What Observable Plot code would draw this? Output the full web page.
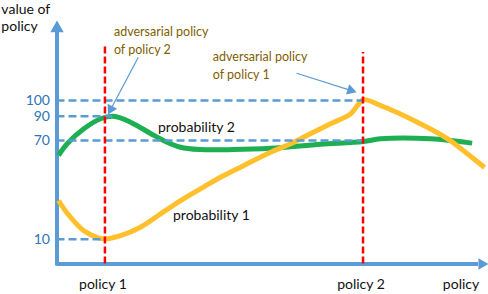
<!DOCTYPE html>
<html>
<head>
<meta charset="utf-8">
<script src="https://cdn.jsdelivr.net/npm/d3@7"></script>
<script src="https://cdn.jsdelivr.net/npm/@observablehq/plot@0.6"></script>
<style>
  body { margin: 0; background: #fff; }
  svg { display: block; }
</style>
</head>
<body>
<div id="chart"></div>
<script>
// ---- data ----
const prob1X = [0.35, 2.45, 6.19, 9.46, 11.33, 14.84, 19.5, 24.2, 28.9, 33.5, 38.2, 42.9, 49.9, 54.6, 59.2, 63.9, 68.6, 70.2, 71.6, 75.6, 84.2, 91.2, 95.8, 99.9];
const prob1Y = [33.5, 25.6, 15.3, 11.0, 10.2, 12.2, 17.3, 25.4, 33.5, 40.6, 47.7, 53.8, 62.9, 68.0, 75.5, 83.7, 91.5, 96.8, 100.5, 96.8, 85.1, 71.6, 62.1, 53.6];

const prob2X = [0.35, 2.38, 6.26, 10.16, 13.2, 17.17, 21.85, 24.88, 28.85, 33.5, 41.2, 49.9, 61.6, 71.6, 75.6, 87.3, 97.0];
const prob2Y = [60.9, 68.0, 79.6, 87.9, 90, 85.1, 75.8, 70, 65.9, 64.5, 64.5, 65.3, 67.7, 69.4, 71.4, 71.4, 68.4];

const yTicks = [100, 90, 70, 10];
const yTickEnds = [71.5, 13.1, 71.5, 11.2];

const xTickLabels = ["policy 1", "policy 2"];
const xTicks = [11.2, 71.5];
const redTops = [135, 130.6];

const seriesLabels = ["probability 2", "probability 1"];
const annotations = ["adversarial policy\nof policy 2", "adversarial policy\nof policy 1"];

// ---- build tables ----
const p1 = prob1X.map((x, i) => ({x, y: prob1Y[i]}));
const p2 = prob2X.map((x, i) => ({x, y: prob2Y[i]}));
const refs = yTicks.map((v, i) => ({v, end: yTickEnds[i], label: String(v)}));
const pols = xTicks.map((x, i) => ({x, top: redTops[i], label: xTickLabels[i]}));
const arrows = [
  {x1: 19.0, y1: 127.6, x2: 12.6, y2: 94.6, rot: 208},
  {x1: 56.0, y1: 117.4, x2: 68.6, y2: 106.5, rot: 107.6}
];
const annos = [
  {x: 13.3, y: 129.9, text: annotations[0]},
  {x: 36.4, y: 113.4, text: annotations[1]}
];
const slabels = [
  {x: 23.6, y: 76.8, text: seriesLabels[0]},
  {x: 27.1, y: 21.4, text: seriesLabels[1]}
];

const axisColor = "#5B9BD5";
const font = "Lato, 'Open Sans', sans-serif";

const chart = Plot.plot({
  width: 488,
  height: 294,
  marginTop: 0, marginRight: 0, marginBottom: 0, marginLeft: 0,
  style: {fontFamily: font, background: "#fff", overflow: "visible"},
  x: {domain: [0, 100], range: [56.5, 484.5], axis: null},
  y: {type: "linear", domain: [0, 10, 70, 90, 100, 151], range: [263.5, 238.7, 140, 115.7, 100, 20], axis: null},
  marks: [
    // axes
    Plot.ruleX([0], {y1: 0, y2: 143, stroke: axisColor, strokeWidth: 4, strokeLinecap: "square"}),
    Plot.ruleY([0], {x1: 0, x2: 98.5, stroke: axisColor, strokeWidth: 4}),
    Plot.dot([{x: 0, y: 146}], {x: "x", y: "y", symbol: "triangle", r: 5, fill: axisColor, stroke: null}),
    Plot.dot([{x: 99.25, y: 0}], {x: "x", y: "y", symbol: "triangle", r: 4.3, rotate: 90, fill: axisColor, stroke: null}),
    // curves
    Plot.line(p2, {x: "x", y: "y", curve: "catmull-rom", stroke: "#1DAF52", strokeWidth: 5, strokeLinecap: "butt"}),
    Plot.line(p1, {x: "x", y: "y", curve: "catmull-rom", stroke: "#FFC02B", strokeWidth: 5, strokeLinecap: "butt"}),
    // blue dashed reference lines
    Plot.ruleY(refs, {y: "v", x1: 0, x2: "end", stroke: axisColor, strokeWidth: 2.5, strokeDasharray: "8,4"}),
    // red dashed verticals
    Plot.ruleX(pols, {x: "x", y1: 0, y2: "top", stroke: "#FF0000", strokeWidth: 2.5, strokeDasharray: "7,3"}),
    // tick labels
    Plot.text(refs, {x: 0, y: "v", text: "label", dx: -7, textAnchor: "end", lineAnchor: "middle", fill: "#2E75B6", fontSize: 14}),
    Plot.text(pols, {x: "x", y: -9.9, text: "label", dx: -2, textAnchor: "middle", lineAnchor: "bottom", fill: "#111", fontSize: 14}),
    Plot.text(["policy"], {x: 94.4, y: -9.9, text: d => d, textAnchor: "middle", lineAnchor: "bottom", fill: "#111", fontSize: 14}),
    Plot.text(["value of\npolicy"], {x: -13.0, y: 144.6, text: d => d, textAnchor: "start", lineAnchor: "bottom", lineHeight: 1.2, fill: "#111", fontSize: 14}),
    // series labels
    Plot.text(slabels, {x: "x", y: "y", text: "text", textAnchor: "start", lineAnchor: "bottom", fill: "#111", fontSize: 14}),
    // annotations
    Plot.link(arrows, {x1: "x1", y1: "y1", x2: "x2", y2: "y2", stroke: axisColor, strokeWidth: 1.2}),
    Plot.dot(arrows, {x: "x2", y: "y2", symbol: "triangle", r: 4, rotate: "rot", fill: axisColor, stroke: null}),
    Plot.text(annos, {x: "x", y: "y", text: "text", textAnchor: "start", lineAnchor: "bottom", lineHeight: 1.44, fill: "#7F6000", fontSize: 12.5})
  ]
});
document.getElementById("chart").appendChild(chart);
</script>
</body>
</html>
